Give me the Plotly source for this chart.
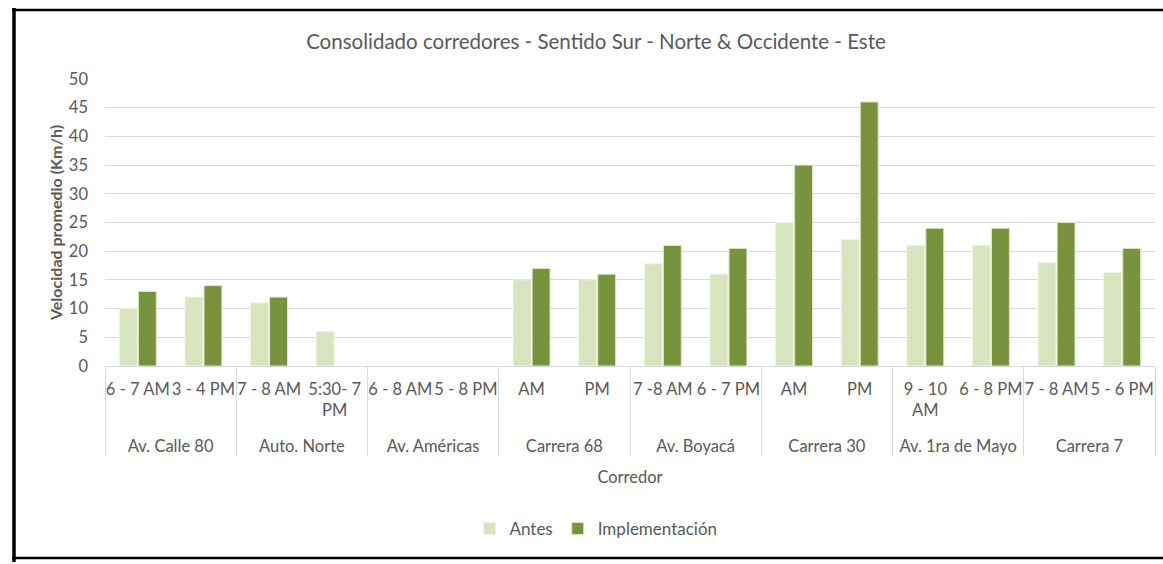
import plotly.graph_objects as go

groups = ["Av. Calle 80", "Av. Calle 80", "Auto. Norte", "Auto. Norte",
          "Av. Américas", "Av. Américas", "Carrera 68", "Carrera 68",
          "Av. Boyacá", "Av. Boyacá", "Carrera 30", "Carrera 30",
          "Av. 1ra de Mayo", "Av. 1ra de Mayo", "Carrera 7", "Carrera 7"]
periods = ["6 - 7 AM", "3 - 4 PM", "7 - 8 AM", "5:30- 7<br>PM",
           "6 - 8 AM", "5 - 8 PM", "AM", "PM",
           "7 -8 AM", "6 - 7 PM", "AM", "PM",
           "9 - 10<br>AM", "6 - 8 PM", "7 - 8 AM", "5 - 6 PM"]
antes = [10, 12, 11, 6, None, None, 15, 15, 17.8, 16, 25, 22, 21, 21, 18, 16.3]
implementacion = [13, 14, 12, None, None, None, 17, 16, 21, 20.5, 35, 46, 24, 24, 25, 20.5]

# pad every period label to three lines so the group row sits lower, like the original
period_labels = [p + "<br> " * (2 - p.count("<br>")) for p in periods]

FONT = "Lato, 'Open Sans', sans-serif"
TXT = "#595959"

fig = go.Figure()
fig.add_trace(go.Bar(x=[groups, period_labels], y=antes, name="Antes",
                     marker=dict(color="#D7E4BD", line=dict(color="#EEF4E2", width=1))))
fig.add_trace(go.Bar(x=[groups, period_labels], y=implementacion, name="Implementación",
                     marker=dict(color="#77933C", line=dict(color="#DDE8C8", width=1))))

W, H = 1163, 564
L, R, T, B = 105, 8, 79, 198
pw, ph = W - L - R, H - T - B

def px(x):
    return (x - L) / pw

def py(y):
    return (H - B - y) / ph

fig.update_layout(
    width=W, height=H,
    margin=dict(l=L, r=R, t=T, b=B, autoexpand=False),
    paper_bgcolor="white", plot_bgcolor="white",
    font=dict(family=FONT, color=TXT, size=16),
    barmode="group", bargap=0.42, bargroupgap=0.06,
    title=dict(text="Consolidado corredores - Sentido Sur - Norte & Occidente - Este",
               x=596 / W, xanchor="center", y=1 - 42 / H, yanchor="middle",
               font=dict(size=20.5, color=TXT, family=FONT)),
    legend=dict(orientation="h", x=px(596), xanchor="center", y=py(529), yanchor="middle",
                font=dict(size=17, color=TXT), itemwidth=30, traceorder="normal"),
    xaxis=dict(type="multicategory", showgrid=False, showline=True, linecolor="#D9D9D9",
               linewidth=1, showdividers=True, dividercolor="#D9D9D9", dividerwidth=1,
               tickfont=dict(size=16.5, color=TXT), ticks="", tickangle=0, automargin=False,
               ticklabelstandoff=8,
               title=dict(text="Corredor", font=dict(size=16.5, color=TXT), standoff=16)),
    yaxis=dict(range=[0, 50], dtick=5, showgrid=True, gridcolor="#D9D9D9", gridwidth=1,
               zeroline=False, showline=False, tickfont=dict(size=16.5, color=TXT),
               ticklabelstandoff=16, automargin=False,
               title=dict(text="<b>Velocidad promedio (Km/h)</b>", font=dict(size=16, color=TXT),
                          standoff=2)),
    showlegend=True,
)

# outer frame lines (as in the original screenshot)
fig.add_shape(type="line", xref="paper", yref="paper", x0=px(14), x1=px(14), y0=py(8), y1=py(562),
              line=dict(color="black", width=3.5))
fig.add_shape(type="line", xref="paper", yref="paper", x0=px(12), x1=px(1163), y0=py(10), y1=py(10),
              line=dict(color="black", width=2.5))
fig.add_shape(type="line", xref="paper", yref="paper", x0=px(12), x1=px(1163), y0=py(558), y1=py(558),
              line=dict(color="black", width=2.5))

fig.write_html("out.html", config={"displayModeBar": False},
               post_script="document.body.style.margin='0';")
